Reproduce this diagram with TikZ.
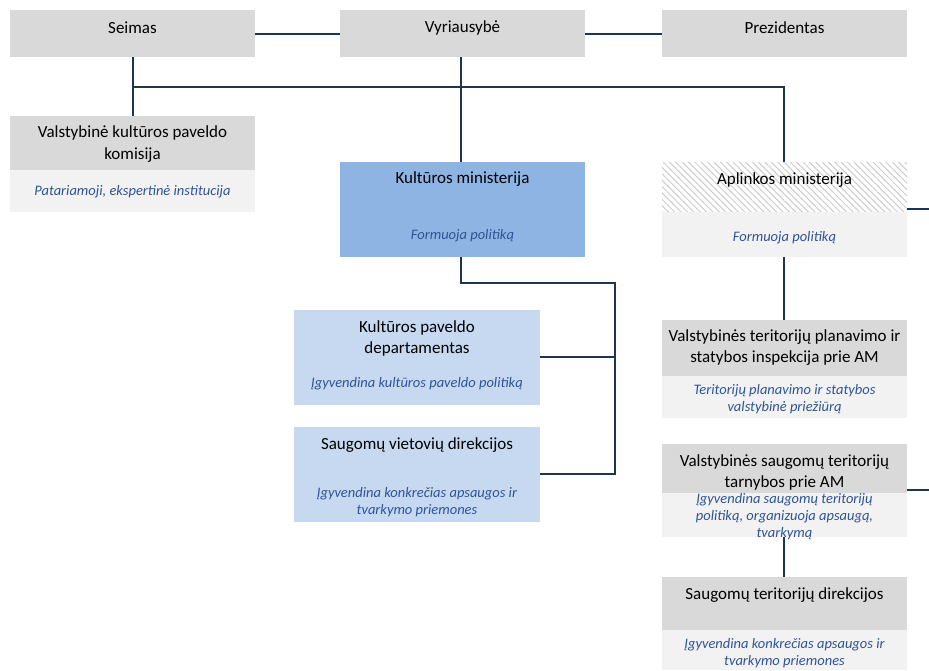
\documentclass[tikz,border=0pt]{standalone}
\usepackage{fontspec}
\setmainfont{Carlito}
\usetikzlibrary{patterns.meta}
\definecolor{hdr}{HTML}{D9D9D9}
\definecolor{lite}{HTML}{F2F2F2}
\definecolor{kmblue}{HTML}{8EB4E3}
\definecolor{ltblue}{HTML}{C6D9F1}
\definecolor{conn}{HTML}{1F3451}
\definecolor{itc}{HTML}{2F5496}
\definecolor{hatch}{HTML}{CCCCCC}
\tikzset{
  box/.style={draw=none, inner sep=0pt, outer sep=0pt, minimum width=245pt, anchor=north west},
  maintxt/.style={font=\fontsize{17}{21.5}\selectfont, text=black, align=center, inner sep=0pt},
  ittxt/.style={font=\fontsize{14.5}{17}\selectfont\itshape, text=itc, align=center, inner sep=0pt},
  conline/.style={draw=conn, line width=1.5pt}
}
\begin{document}
\begin{tikzpicture}[x=1pt,y=1pt]
\useasboundingbox (0,0) rectangle (929,-670);
% boxes
\node[box, fill=hdr, minimum height=47pt] (seimas) at (10,-10) {};
\node[box, fill=hdr, minimum height=47pt] (vyr) at (340,-10) {};
\node[box, fill=hdr, minimum height=47pt] (prez) at (662,-10) {};
\node[box, fill=hdr, minimum height=54pt] (komH) at (10,-116) {};
\node[box, fill=lite, minimum height=42pt] (komB) at (10,-170) {};
\node[box, fill=kmblue, minimum height=95pt] (km) at (340,-162) {};
\node[box, fill=white, pattern={Lines[angle=-45,distance=4.5pt,line width=1pt]}, pattern color=hatch, minimum height=50pt] (amH) at (662,-162) {};
\node[box, fill=lite, minimum height=45pt] (amB) at (662,-212) {};
\node[box, fill=hdr, minimum height=56pt] (vtpH) at (662,-320) {};
\node[box, fill=lite, minimum height=42pt] (vtpB) at (662,-376) {};
\node[box, fill=hdr, minimum height=49pt] (vstH) at (662,-444) {};
\node[box, fill=lite, minimum height=44pt] (vstB) at (662,-493) {};
\node[box, fill=hdr, minimum height=53pt] (stdH) at (662,-577) {};
\node[box, fill=lite, minimum height=40pt] (stdB) at (662,-630) {};
\node[box, fill=ltblue, minimum width=246pt, minimum height=95pt] (kpd) at (294,-310) {};
\node[box, fill=ltblue, minimum width=246pt, minimum height=95pt] (svd) at (294,-427) {};
% texts
\node[maintxt] (t1) at (132.5,-28) {Seimas};
\node[maintxt] (t2) at (462.5,-28) {Vyriausybė};
\node[maintxt] (t3) at (784.5,-28) {Prezidentas};
\node[maintxt] (t4) at (132.5,-144) {Valstybinė kultūros paveldo\\komisija};
\node[ittxt] (t5) at (132.5,-192) {Patariamoji, ekspertinė institucija};
\node[maintxt] (t6) at (462.5,-179) {Kultūros ministerija};
\node[ittxt] (t7) at (462.5,-236) {Formuoja politiką};
\node[maintxt] (t8) at (784.5,-180) {Aplinkos ministerija};
\node[ittxt] (t9) at (784.5,-238) {Formuoja politiką};
\node[maintxt] (t10) at (784.5,-347.5) {Valstybinės teritorijų planavimo ir\\statybos inspekcija prie AM};
\node[ittxt] (t11) at (784.5,-399) {Teritorijų planavimo ir statybos\\valstybinė priežiūrą};
\node[maintxt] (t12) at (784.5,-472.5) {Valstybinės saugomų teritorijų\\tarnybos prie AM};
\node[ittxt] (t13) at (784.5,-516.5) {Įgyvendina saugomų teritorijų\\politiką, organizuoja apsaugą,\\tvarkymą};
\node[maintxt] (t14) at (784.5,-595) {Saugomų teritorijų direkcijos};
\node[ittxt] (t15) at (784.5,-653.5) {Įgyvendina konkrečias apsaugos ir\\tvarkymo priemones};
\node[maintxt] (t16) at (417,-338.5) {Kultūros paveldo\\departamentas};
\node[ittxt] (t17) at (417,-384) {Įgyvendina kultūros paveldo politiką};
\node[maintxt] (t18) at (417,-445) {Saugomų vietovių direkcijos};
\node[ittxt] (t19) at (417,-502.5) {Įgyvendina konkrečias apsaugos ir\\tvarkymo priemones};
% coordinates
\coordinate (busL) at (133,-87);
\coordinate (busR) at (784,-87);
\coordinate (kmA) at (461,-283);
\coordinate (kmB) at (615,-283);
\coordinate (kmC) at (615,-474);
\coordinate (kmD) at (615,-357);
\coordinate (exA) at (929,-209);
\coordinate (exB) at (929,-490);
% connectors
\draw[conline] (seimas.east |- 0,-34) -- (vyr.west |- 0,-34);
\draw[conline] (vyr.east |- 0,-34) -- (prez.west |- 0,-34);
\draw[conline] (seimas.south -| busL) -- (komH.north -| busL);
\draw[conline] (busL) -- (busR) -- (amH.north -| busR);
\draw[conline] (vyr.south -| kmA) -- (km.north -| kmA);
\draw[conline] (km.south -| kmA) -- (kmA) -- (kmB) -- (kmC) -- (svd.east |- kmC);
\draw[conline] (kpd.east |- kmD) -- (kmD);
\draw[conline] (amH.east |- exA) -- (exA);
\draw[conline] (amB.south -| busR) -- (vtpH.north -| busR);
\draw[conline] (vstH.east |- exB) -- (exB);
\draw[conline] (vstB.south -| busR) -- (stdH.north -| busR);
\end{tikzpicture}
\end{document}
